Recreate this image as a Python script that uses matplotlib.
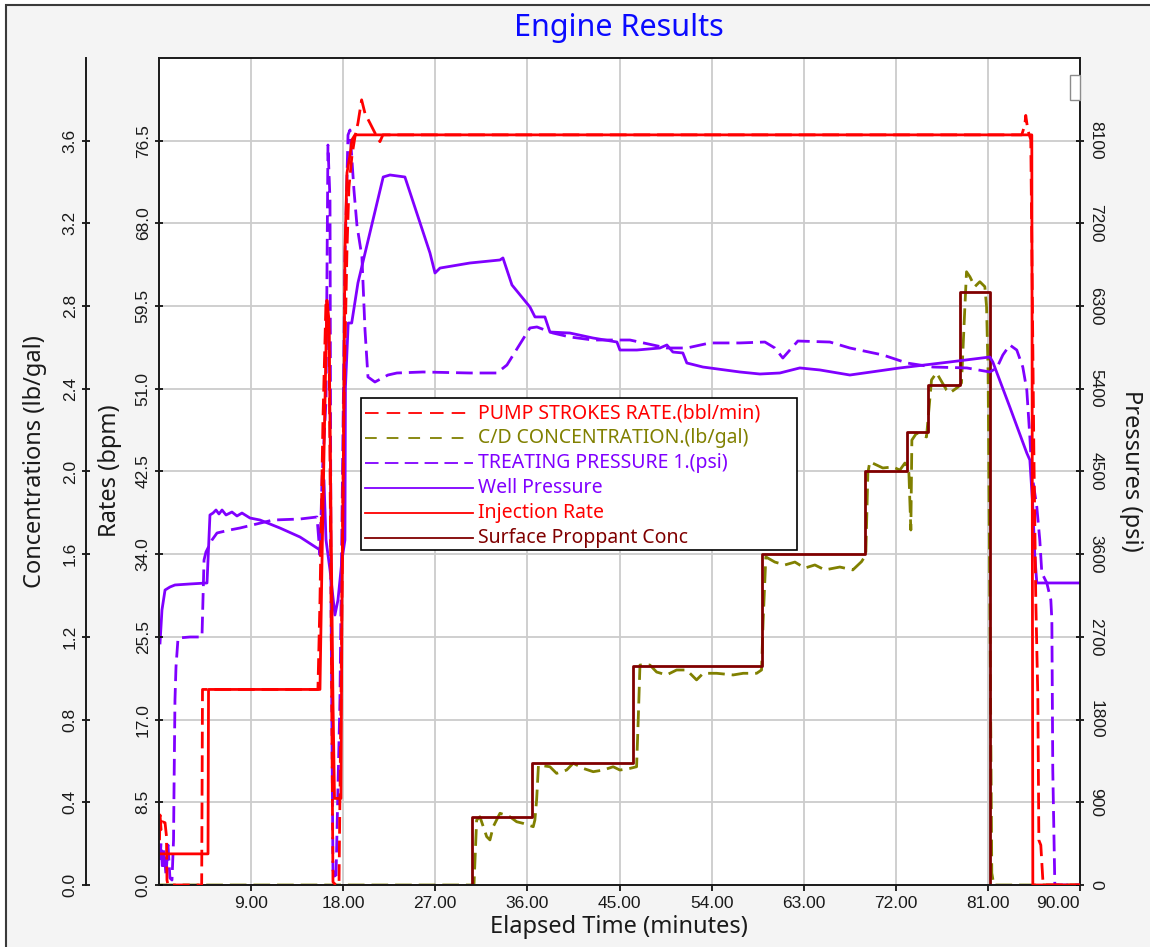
import matplotlib

matplotlib.use("Agg")
import matplotlib.pyplot as plt
from matplotlib.lines import Line2D
from matplotlib.patches import Rectangle

RED = "#ff0000"
OLIVE = "#808000"
VIOLET = "#8000ff"
MAROON = "#800000"

# Injection rate (bpm) vs elapsed minutes
inj_t = [0.0, 4.79, 4.84, 15.73, 15.93, 16.22, 16.41, 16.61, 16.81, 17.0, 17.15, 17.78, 17.88,
         18.07, 18.17, 18.37, 18.66, 18.86, 19.15, 85.29, 85.39, 90.0]
inj_rate = [3.2, 3.2, 20.1, 20.1, 33.4, 49.8, 60.1, 58.1, 37.5, 19.0, 8.9, 8.9, 29.3,
            49.8, 65.3, 73.2, 75.0, 76.6, 77.1, 77.1, 0.0, 0.0]

# Pump strokes rate (bbl/min)
pump_t = [0.05, 0.10, 0.20, 0.34, 0.59, 0.73, 0.78, 0.88, 4.17, 4.25, 15.53, 15.73, 16.02, 16.32,
          16.61, 16.81, 17.0, 17.29, 17.59, 17.78, 18.07, 18.37, 18.56, 18.86, 19.15, 19.44, 19.80,
          20.13, 20.62, 21.10, 21.59, 21.88, 84.31, 84.6, 84.7, 84.9, 85.19, 85.49, 85.68, 85.88,
          85.98, 86.17, 86.37, 86.56, 90.0]
pump_rate = [4.6, 7.2, 5.7, 6.5, 6.4, 5.0, 0.5, 0.0, 0.0, 20.1, 20.1, 29.3, 47.8, 60.1,
             57.0, 29.3, 0.3, 0.0, 0.0, 19.0, 49.8, 65.3, 71.7, 75.0, 76.9, 78.3, 80.7,
             79.3, 78.3, 77.3, 76.4, 77.1, 77.1, 78.1, 79.1, 77.6, 76.6, 44.7, 29.3, 19.3,
             4.6, 4.1, 0.5, 0.0, 0.0]

# Well pressure (psi)
well_t = [0.10, 0.29, 0.59, 1.07, 1.56, 3.03, 4.69, 4.79, 4.98, 5.28, 5.57, 5.86, 6.16, 6.55,
          7.13, 7.62, 8.11, 8.89, 9.87, 11.82, 13.78, 15.73, 15.93, 16.12, 16.32, 16.71, 17.19,
          17.49, 17.88, 18.17, 18.22, 18.49, 18.83, 19.44, 21.91, 22.57, 24.03, 26.48, 26.97,
          27.46, 30.38, 33.32, 33.61, 34.49, 36.25, 36.74, 37.71, 38.2, 40.15, 42.4, 44.75,
          45.04, 46.7, 48.95, 49.63, 50.22, 51.19, 51.58, 53.15, 56.76, 58.72, 60.67, 62.62,
          64.58, 67.51, 72.4, 77.28, 81.19, 81.48, 83.14, 84.8, 85.1, 85.39, 85.59, 85.78, 90.0]
well_psi = [2634, 2993, 3210, 3243, 3265, 3276, 3287, 3537, 4027, 4048, 4081, 4038, 4081, 4027,
            4059, 4016, 4048, 3994, 3972, 3885, 3787, 3646, 3972, 4408, 3755, 3428, 2938,
            3102, 3537, 3755, 5420, 6116, 6116, 6552, 7705, 7727, 7705, 6878, 6660,
            6714, 6769, 6802, 6824, 6530, 6290, 6182, 6182, 6018, 6007, 5953, 5909,
            5822, 5822, 5844, 5877, 5800, 5790, 5681, 5637, 5583, 5561, 5572, 5627,
            5605, 5550, 5627, 5692, 5746, 5692, 5202, 4701, 4625, 4114, 3570, 3287, 3287]

# Treating pressure 1 (psi)
treat_t = [0.1, 0.2, 0.34, 0.49, 0.68, 0.88, 1.07, 1.27, 1.42, 1.47, 1.56, 1.66, 1.86, 3.03,
           4.2, 4.4, 4.59, 5.18, 5.67, 6.94, 7.91, 11.14, 13.78, 15.44, 15.73, 15.93, 16.32,
           16.51, 16.71, 16.81, 17.0, 17.29, 17.68, 17.98, 18.17, 18.47, 18.66, 19.05, 19.34,
           19.83, 20.13, 20.42, 21.1, 22.37, 23.25, 25.79, 30.38, 33.02, 34.0, 36.25, 36.93,
           38.49, 40.15, 42.4, 46.02, 48.26, 49.63, 51.58, 53.83, 56.76, 59.21, 60.18, 60.96,
           61.65, 62.43, 65.56, 67.51, 70.74, 73.08, 75.62, 78.94, 81.19, 81.87, 82.46, 83.14,
           83.82, 84.41, 84.8, 85.1, 85.29, 85.78, 86.07, 86.27, 86.76, 87.15, 87.25, 87.34,
           87.54, 90.0]
treat_psi = [272, 457, 163, 381, 109, 435, 76, 54, 490, 1067, 2013, 2373, 2688, 2699,
             2699, 3537, 3624, 3755, 3831, 3864, 3885, 3972, 3983, 4005, 3591, 4408, 5278,
             8053, 7455, 3102, 163, 54, 2013, 4952, 6802, 8162, 8217, 7564, 7183,
             6835, 6040, 5529, 5474, 5550, 5572, 5583, 5572, 5572, 5659, 6062, 6073,
             6007, 5964, 5931, 5931, 5877, 5844, 5844, 5899, 5899, 5909, 5844, 5735,
             5822, 5920, 5909, 5844, 5768, 5681, 5637, 5627, 5583, 5627, 5768, 5877,
             5822, 5637, 5387, 4876, 4484, 4114, 3755, 3396, 3287, 3102, 2884, 1252,
             0, 0]

# Surface proppant concentration (lb/gal), stepped
prop_t = [0.0, 30.55, 36.41, 46.28, 58.88, 68.98, 73.05, 75.13, 78.26, 81.19, 90.0]
prop_conc = [0.0, 0.33, 0.59, 1.06, 1.60, 2.00, 2.19, 2.42, 2.87, 0.0, 0.0]

# C/D concentration (lb/gal)
cd_t = [0.0, 30.78, 31.04, 31.36, 32.02, 32.34, 32.66, 33.32, 34.29, 34.95,
        35.59, 36.57, 36.73, 36.9, 37.08, 38.2, 38.85, 39.83, 40.48, 41.45,
        42.43, 43.41, 44.38, 45.04, 46.02, 46.67, 46.83, 47.0, 47.97, 48.63,
        49.6, 50.58, 51.56, 52.53, 53.18, 54.49, 56.11, 57.09, 58.4, 58.88,
        59.04, 59.3, 60.18, 61.16, 62.14, 63.11, 64.09, 65.07, 66.53, 67.8,
        68.65, 69.07, 69.27, 69.46, 70.73, 71.71, 72.4, 72.89, 73.28, 73.47,
        73.57, 74.03, 75.0, 75.13, 75.49, 75.98, 76.96, 77.28, 78.09, 78.42,
        78.75, 78.91, 79.24, 79.72, 80.21, 80.7, 80.87, 81.02, 81.19, 81.38,
        81.58, 90.0]
cd_conc = [0.0, 0.0, 0.314, 0.330, 0.234, 0.218, 0.282, 0.347, 0.330, 0.306,
           0.298, 0.282, 0.314, 0.41, 0.580, 0.572, 0.540, 0.556, 0.589, 0.564,
           0.548, 0.556, 0.572, 0.556, 0.564, 0.572, 0.798, 1.064, 1.064, 1.030,
           1.016, 1.040, 1.040, 0.992, 1.024, 1.024, 1.016, 1.024, 1.024, 1.040,
           1.282, 1.587, 1.562, 1.548, 1.562, 1.533, 1.548, 1.524, 1.538, 1.524,
           1.564, 1.596, 1.993, 2.047, 2.017, 2.022, 2.007, 2.041, 1.993, 1.717,
           2.152, 2.186, 2.167, 2.24, 2.443, 2.477, 2.394, 2.380, 2.409, 2.428,
           2.796, 2.966, 2.942, 2.894, 2.918, 2.894, 2.797, 2.477, 1.379, 0.058,
           0.0, 0.0]

time_ticks = [9, 18, 27, 36, 45, 54, 63, 72, 81, 90]
conc_ticks = [round(0.4 * i, 1) for i in range(10)]
rate_ticks = [round(8.5 * i, 1) for i in range(10)]
psi_ticks = [900 * i for i in range(10)]

legend_rows = [
    ("PUMP STROKES RATE.(bbl/min)", RED, (7.5, 4.5)),
    ("C/D CONCENTRATION.(lb/gal)", OLIVE, (6.5, 5.5)),
    ("TREATING PRESSURE 1.(psi)", VIOLET, (7.5, 3.5)),
    ("Well Pressure", VIOLET, None),
    ("Injection Rate", RED, None),
    ("Surface Proppant Conc", MAROON, None),
]

TICK_FONT = dict(family="Liberation Sans", size=12.5, color="#1a1a1a")
LABEL_FONT = dict(family="Noto Sans", size=17, color="#1a1a1a")
W, H = 1150, 947

fig = plt.figure(figsize=(W / 100, H / 100), dpi=100)
fig.patch.set_facecolor("white")
fig.add_artist(Rectangle((6 / W, -0.02), 1.0, 1 - 5 / H + 0.02, transform=fig.transFigure,
                         facecolor="#f4f4f4", edgecolor="#3a3a3a", linewidth=1.5, zorder=-10))

ax = fig.add_axes([159 / W, 1 - 885 / H, 921 / W, 827 / H])
ax_p = ax.twinx()
ax_r = ax.twinx()

# concentration lines on the host axes
ax.plot(cd_t, cd_conc, color=OLIVE, linewidth=2, dashes=(6, 2.5))
ax.plot(prop_t, prop_conc, color=MAROON, linewidth=2, drawstyle="steps-post")
# pressures
ax_p.plot(treat_t, treat_psi, color=VIOLET, linewidth=2, dashes=(6, 2.5))
ax_p.plot(well_t, well_psi, color=VIOLET, linewidth=2)
# rates
ax_r.plot(pump_t, pump_rate, color=RED, linewidth=2, dashes=(6, 2.5))
ax_r.plot(inj_t, inj_rate, color=RED, linewidth=2)

ax.set_xlim(0, 90)
ax.set_ylim(0, 4.0)
ax_r.set_ylim(0, 85)
ax_p.set_ylim(0, 9000)

ax.grid(True, color="#cccccc", linewidth=1.3)
ax.set_facecolor("white")

# x axis
ax.set_xticks(time_ticks)
ax.set_xticklabels([f"{t:.2f}" for t in time_ticks], **TICK_FONT)
ax.get_xticklabels()[-1].set_horizontalalignment("right")
ax.tick_params(axis="x", direction="out", length=4, width=1.2, pad=4)

# concentration axis, offset to the left
ax.spines["left"].set_position(("outward", 73 * 0.72))
ax.spines["right"].set_visible(False)
ax.set_yticks(conc_ticks)
ax.set_yticklabels([f"{v:.1f}" for v in conc_ticks], rotation=90, va="center", **TICK_FONT)
ax.tick_params(axis="y", direction="inout", length=6, width=1.2, pad=3)

# rate axis on the plot's left edge
ax_r.yaxis.tick_left()
for side in ("right", "top", "bottom"):
    ax_r.spines[side].set_visible(False)
ax_r.set_yticks(rate_ticks)
ax_r.set_yticklabels([f"{v:.1f}" for v in rate_ticks], rotation=90, va="center", **TICK_FONT)
ax_r.tick_params(axis="y", direction="inout", length=6, width=1.2, pad=3)

# pressure axis on the right
for side in ("left", "top", "bottom"):
    ax_p.spines[side].set_visible(False)
ax_p.set_yticks(psi_ticks)
ax_p.set_yticklabels([str(v) for v in psi_ticks], rotation=-90, va="center", **TICK_FONT)
ax_p.tick_params(axis="y", direction="inout", length=6, width=1.2, pad=3)

for a in (ax, ax_r, ax_p):
    for spine in a.spines.values():
        spine.set_linewidth(1.4)
        spine.set_color("#1a1a1a")

# axis titles
fig.text(35 / W, 1 - 462 / H, "Concentrations (lb/gal)", rotation=90, ha="center", va="center", **LABEL_FONT)
fig.text(110 / W, 1 - 471 / H, "Rates (bpm)", rotation=90, ha="center", va="center", **LABEL_FONT)
fig.text(1131 / W, 1 - 471 / H, "Pressures (psi)", rotation=-90, ha="center", va="center", **LABEL_FONT)
fig.text(619 / W, 1 - 927 / H, "Elapsed Time (minutes)", ha="center", va="center", **LABEL_FONT)
fig.text(619 / W, 1 - 28 / H, "Engine Results", ha="center", va="center",
         family="Noto Sans", size=22, color="#0a0aff")

# small box in the upper right corner
fig.add_artist(Rectangle((1070 / W, 1 - 100 / H), 10 / W, 25 / H, transform=fig.transFigure,
                         facecolor="white", edgecolor="#8c8c8c", linewidth=1, zorder=1))

# legend box
ax_r.add_patch(Rectangle((0.2193, 0.4051), 0.4735, 0.1838, transform=ax_r.transAxes,
                         facecolor="white", edgecolor="black", linewidth=1.2, zorder=10))
for i, (label, color, dash) in enumerate(legend_rows):
    y = 0.5707 - i * 0.0302
    line = Line2D([0.2237, 0.3410], [y, y], transform=ax_r.transAxes, color=color,
                  linewidth=1.3, zorder=11)
    if dash:
        line.set_dashes(dash)
    ax_r.add_line(line)
    ax_r.text(0.3464, y, label, transform=ax_r.transAxes, color=color, va="center",
              family="Noto Sans", size=14, zorder=11)

ax.set_xlim(0, 90)
ax_r.set_ylim(0, 85)

fig.savefig("out.png", dpi=100)
